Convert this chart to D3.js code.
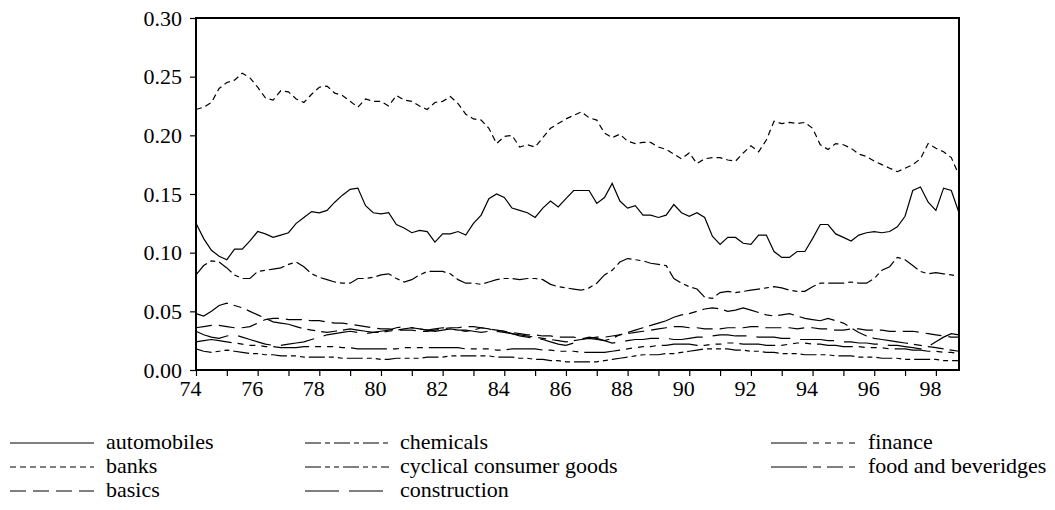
<!DOCTYPE html>
<html><head><meta charset="utf-8">
<script src="https://cdn.jsdelivr.net/npm/d3@7"></script>
<style>body{margin:0;background:#fff}svg{display:block}</style>
</head><body><svg id="c" width="1055" height="510"></svg>
<script>
const startYear = 74, periodsPerYear = 4;
const yTicks = [0.00, 0.05, 0.10, 0.15, 0.20, 0.25, 0.30];
const xTicks = [74,75,76,77,78,79,80,81,82,83,84,85,86,87,88,89,90,91,92,93,94,95,96,97,98];
const xTickLabels = ["74","76","78","80","82","84","86","88","90","92","94","96","98"];

const automobiles = [0.125,0.112,0.102,0.097,0.094,0.103,0.103,0.110,0.118,0.116,0.113,0.115,0.117,0.125,0.130,0.135,0.134,0.136,0.143,0.149,0.154,0.155,0.140,0.134,0.133,0.134,0.124,0.121,0.117,0.119,0.118,0.109,0.116,0.116,0.118,0.115,0.125,0.132,0.146,0.150,0.147,0.138,0.136,0.134,0.130,0.138,0.144,0.139,0.146,0.153,0.153,0.153,0.142,0.147,0.159,0.144,0.138,0.140,0.132,0.132,0.130,0.132,0.141,0.134,0.131,0.134,0.130,0.114,0.107,0.113,0.113,0.108,0.107,0.115,0.115,0.101,0.096,0.096,0.101,0.101,0.112,0.124,0.124,0.116,0.113,0.110,0.115,0.117,0.118,0.117,0.118,0.122,0.131,0.153,0.156,0.143,0.136,0.155,0.153,0.134];
const banks = [0.222,0.224,0.228,0.240,0.245,0.247,0.253,0.249,0.241,0.232,0.230,0.238,0.237,0.231,0.228,0.235,0.241,0.242,0.236,0.234,0.229,0.224,0.231,0.229,0.229,0.225,0.234,0.230,0.229,0.225,0.222,0.228,0.229,0.233,0.227,0.218,0.214,0.213,0.206,0.193,0.199,0.200,0.190,0.192,0.190,0.198,0.206,0.210,0.214,0.217,0.220,0.215,0.213,0.202,0.198,0.201,0.195,0.193,0.194,0.194,0.190,0.188,0.184,0.180,0.185,0.176,0.180,0.181,0.181,0.179,0.178,0.185,0.191,0.186,0.196,0.212,0.210,0.211,0.210,0.211,0.206,0.192,0.188,0.193,0.192,0.189,0.184,0.182,0.178,0.175,0.172,0.169,0.172,0.175,0.180,0.193,0.189,0.186,0.181,0.166];
const chemicals = [0.081,0.089,0.093,0.092,0.087,0.081,0.078,0.078,0.084,0.085,0.086,0.087,0.090,0.092,0.088,0.082,0.079,0.077,0.075,0.074,0.074,0.078,0.078,0.079,0.081,0.082,0.078,0.075,0.077,0.081,0.084,0.084,0.084,0.082,0.077,0.074,0.074,0.073,0.075,0.077,0.078,0.078,0.077,0.078,0.078,0.077,0.073,0.071,0.070,0.069,0.068,0.070,0.074,0.081,0.085,0.092,0.095,0.094,0.093,0.091,0.090,0.089,0.078,0.074,0.071,0.069,0.062,0.061,0.066,0.067,0.066,0.067,0.068,0.069,0.070,0.071,0.070,0.068,0.067,0.067,0.071,0.074,0.074,0.074,0.074,0.075,0.074,0.074,0.078,0.085,0.088,0.096,0.094,0.089,0.084,0.082,0.083,0.082,0.081,0.080];
const foodBeverages = [0.048,0.046,0.050,0.055,0.057,0.055,0.053,0.050,0.047,0.044,0.041,0.040,0.039,0.037,0.035,0.034,0.033,0.032,0.033,0.034,0.035,0.034,0.033,0.032,0.032,0.033,0.034,0.035,0.036,0.035,0.034,0.033,0.034,0.035,0.034,0.033,0.034,0.036,0.035,0.033,0.032,0.031,0.030,0.029,0.028,0.027,0.026,0.025,0.024,0.025,0.026,0.027,0.026,0.025,0.027,0.030,0.032,0.034,0.036,0.038,0.040,0.042,0.045,0.047,0.048,0.050,0.052,0.053,0.052,0.050,0.051,0.053,0.051,0.049,0.047,0.046,0.047,0.048,0.046,0.044,0.043,0.042,0.044,0.042,0.040,0.036,0.032,0.029,0.027,0.026,0.025,0.024,0.023,0.022,0.021,0.020,0.019,0.018,0.017,0.016];
const basics = [0.036,0.037,0.038,0.038,0.037,0.036,0.036,0.037,0.040,0.043,0.044,0.044,0.043,0.043,0.043,0.042,0.042,0.041,0.040,0.040,0.039,0.038,0.037,0.036,0.035,0.035,0.034,0.034,0.034,0.033,0.033,0.034,0.035,0.036,0.036,0.037,0.037,0.036,0.035,0.034,0.033,0.032,0.031,0.030,0.030,0.029,0.029,0.028,0.028,0.028,0.027,0.027,0.028,0.028,0.029,0.030,0.031,0.032,0.033,0.034,0.035,0.036,0.037,0.037,0.036,0.036,0.035,0.035,0.035,0.036,0.036,0.036,0.037,0.037,0.036,0.036,0.036,0.036,0.035,0.036,0.036,0.035,0.035,0.034,0.034,0.035,0.035,0.034,0.034,0.034,0.033,0.033,0.033,0.033,0.032,0.031,0.030,0.029,0.028,0.028];
const construction = [0.033,0.030,0.028,0.027,0.029,0.030,0.028,0.026,0.024,0.022,0.021,0.021,0.022,0.023,0.024,0.026,0.028,0.030,0.031,0.032,0.033,0.032,0.031,0.032,0.033,0.034,0.036,0.037,0.036,0.035,0.034,0.035,0.036,0.035,0.034,0.034,0.033,0.032,0.033,0.034,0.033,0.031,0.029,0.028,0.027,0.026,0.024,0.022,0.021,0.023,0.026,0.028,0.027,0.025,0.023,0.024,0.025,0.026,0.026,0.027,0.027,0.027,0.026,0.026,0.027,0.028,0.028,0.029,0.030,0.030,0.029,0.029,0.029,0.028,0.028,0.028,0.027,0.027,0.026,0.026,0.026,0.026,0.025,0.025,0.024,0.024,0.023,0.023,0.022,0.022,0.021,0.021,0.020,0.019,0.018,0.020,0.024,0.028,0.031,0.030];
const finance = [0.024,0.025,0.026,0.025,0.024,0.023,0.022,0.021,0.021,0.020,0.020,0.019,0.019,0.019,0.020,0.020,0.020,0.020,0.020,0.019,0.019,0.018,0.018,0.018,0.018,0.018,0.018,0.019,0.019,0.019,0.019,0.019,0.019,0.019,0.019,0.018,0.018,0.018,0.018,0.017,0.017,0.018,0.018,0.018,0.018,0.017,0.017,0.016,0.016,0.016,0.015,0.015,0.015,0.015,0.016,0.017,0.018,0.019,0.020,0.020,0.021,0.021,0.022,0.022,0.022,0.021,0.021,0.022,0.022,0.023,0.023,0.022,0.022,0.022,0.021,0.021,0.021,0.022,0.023,0.023,0.022,0.022,0.021,0.021,0.020,0.020,0.020,0.019,0.019,0.019,0.018,0.018,0.018,0.017,0.017,0.016,0.016,0.015,0.015,0.014];
const cyclical = [0.018,0.016,0.015,0.016,0.017,0.016,0.015,0.014,0.014,0.013,0.013,0.012,0.012,0.012,0.011,0.011,0.011,0.011,0.011,0.010,0.010,0.010,0.010,0.010,0.009,0.009,0.010,0.010,0.010,0.010,0.011,0.011,0.011,0.012,0.012,0.012,0.012,0.012,0.012,0.011,0.011,0.011,0.010,0.010,0.009,0.009,0.008,0.008,0.007,0.007,0.007,0.007,0.007,0.008,0.009,0.010,0.011,0.012,0.013,0.013,0.013,0.014,0.014,0.015,0.016,0.017,0.018,0.018,0.018,0.018,0.017,0.017,0.016,0.016,0.015,0.015,0.014,0.014,0.014,0.013,0.013,0.013,0.013,0.012,0.012,0.012,0.011,0.011,0.011,0.010,0.010,0.010,0.009,0.009,0.009,0.009,0.009,0.008,0.008,0.008];

const seriesNames = ["automobiles","banks","basics","chemicals","cyclical consumer goods","construction","finance","food and beveridges"];
const seriesData = [automobiles, banks, basics, chemicals, cyclical, construction, finance, foodBeverages];
const dashes = ["none","6,4","16,7","16,4,5,4","16,4,5,4,5,4","34,10","36,6,6,6,6,6,6,6","36,6,8,6,16,6"];
const FONT = "'Liberation Serif', 'Times New Roman', Times, 'DejaVu Serif', serif";

const svg = d3.select("#c");
const L = 196, R = 959, T = 18, B = 370;
const x = d3.scaleLinear().domain([74, 98.75]).range([L, R]);
const y = d3.scaleLinear().domain([0, 0.30]).range([B, T]);

const line = d3.line().x((d,i)=>x(startYear + i/periodsPerYear)).y(d=>y(d));
seriesData.forEach((s,k)=>{
  svg.append("path").attr("d", line(s)).attr("fill","none").attr("stroke","#000")
    .attr("stroke-width",1.2).attr("stroke-dasharray", dashes[k]);
});

svg.append("rect").attr("x",L).attr("y",T).attr("width",R-L).attr("height",B-T)
  .attr("fill","none").attr("stroke","#000").attr("stroke-width",2);

const yAxis = d3.axisLeft(y).tickValues(yTicks).tickFormat(d3.format(".2f")).tickSize(6).tickPadding(8);
const ga = svg.append("g").attr("transform",`translate(${L},0)`).call(yAxis);
ga.select(".domain").remove();
ga.selectAll("line").attr("stroke","#000").attr("stroke-width",1.2);
ga.selectAll("text").attr("fill","#000").style("font-family",FONT).style("font-size","22px");

const xAxis = d3.axisBottom(x).tickValues(xTicks)
  .tickFormat(d => xTickLabels.includes(String(d)) ? String(d) : "").tickSize(6).tickPadding(4);
const gx = svg.append("g").attr("transform",`translate(0,${B})`).call(xAxis);
gx.select(".domain").remove();
gx.selectAll("line").attr("stroke","#000").attr("stroke-width",1.2);
gx.selectAll("text").attr("fill","#000").attr("dx",-6).style("font-family",FONT).style("font-size","22px");

const legCols = [{lx:10, tx:106},{lx:305, tx:400},{lx:771, tx:868}];
const legRows = [443, 467, 491];
const legendOrder = [[0,1,2],[3,4,5],[6,7]];
legendOrder.forEach((col,ci)=>{
  col.forEach((k,ri)=>{
    const c = legCols[ci], yy = legRows[ri];
    svg.append("line").attr("x1",c.lx).attr("x2",c.lx+84).attr("y1",yy).attr("y2",yy)
      .attr("stroke","#000").attr("stroke-width",1.2).attr("stroke-dasharray",dashes[k]);
    svg.append("text").attr("x",c.tx).attr("y",yy+6).style("font-family",FONT).style("font-size","22px").text(seriesNames[k]);
  });
});
</script></body></html>
